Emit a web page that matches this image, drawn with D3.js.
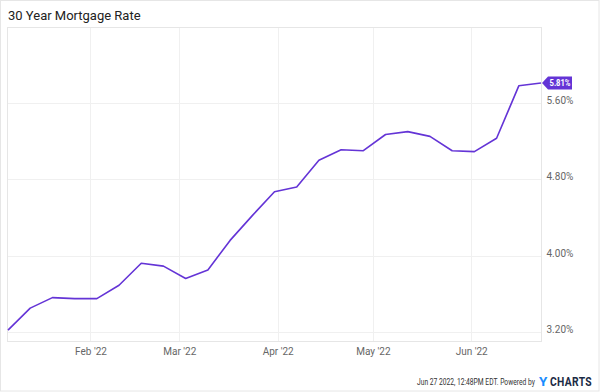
<!DOCTYPE html>
<html><head><meta charset="utf-8">
<script src="https://cdn.jsdelivr.net/npm/d3@7"></script>
<style>body{margin:0;background:#fff}svg{display:block;font-family:Roboto,"Noto Sans",sans-serif}</style>
</head><body>
<svg id="c" width="600" height="392"></svg>
<script>
const dates = ["2022-01-06","2022-01-13","2022-01-20","2022-01-27","2022-02-03","2022-02-10","2022-02-17","2022-02-24","2022-03-03","2022-03-10","2022-03-17","2022-03-24","2022-03-31","2022-04-07","2022-04-14","2022-04-21","2022-04-28","2022-05-05","2022-05-12","2022-05-19","2022-05-26","2022-06-02","2022-06-09","2022-06-16","2022-06-23"];
const rates = [3.22,3.45,3.56,3.55,3.55,3.69,3.92,3.89,3.76,3.85,4.16,4.42,4.67,4.72,5.00,5.11,5.10,5.27,5.30,5.25,5.10,5.09,5.23,5.78,5.81];
const yTicks = [3.2,4.0,4.8,5.6];
const xTicks = ["2022-02-01","2022-03-01","2022-04-01","2022-05-01","2022-06-01"];
const xTickLabels = ["Feb '22","Mar '22","Apr '22","May '22","Jun '22"];
const title = "30 Year Mortgage Rate";
const footer = "Jun 27 2022, 12:48PM EDT. Powered by";

const parse = d3.utcParse("%Y-%m-%d");
const data = dates.map((d,i)=>({date:parse(d), v:rates[i]}));
const svg = d3.select("#c");
const L=7.5, R=541.5, T=27.5, B=341.5;
const x = d3.scaleUtc().domain([data[0].date, data[data.length-1].date]).range([L+0.5, R-0.5]);
const y = d3.scaleLinear().domain([3.2,5.6]).range([332,103]);

// outer frame
svg.append("rect").attr("x",0.5).attr("y",0.5).attr("width",598.5).attr("height",390.5)
  .attr("fill","none").attr("stroke","#e6e6e6");

svg.append("text").attr("x",8).attr("y",20).attr("font-size",13).attr("fill","#222").text(title);

// gridlines
const g = svg.append("g");
g.selectAll(".hg").data(yTicks).join("line")
  .attr("x1",L).attr("x2",R).attr("y1",d=>Math.round(y(d))+0.5).attr("y2",d=>Math.round(y(d))+0.5)
  .attr("stroke","#f0f0f0");
g.selectAll(".vg").data(xTicks).join("line")
  .attr("x1",d=>Math.round(x(parse(d)))+0.5).attr("x2",d=>Math.round(x(parse(d)))+0.5)
  .attr("y1",T).attr("y2",B).attr("stroke","#f0f0f0");

// plot border
svg.append("rect").attr("x",L).attr("y",T).attr("width",R-L).attr("height",B-T)
  .attr("fill","none").attr("stroke","#e6e6e6");

// axes labels via d3 axes
const yAxis = svg.append("g").attr("transform",`translate(${R},0)`)
  .call(d3.axisRight(y).tickValues(yTicks).tickSize(0).tickPadding(5).tickFormat(d=>d.toFixed(2)+"%"));
yAxis.select(".domain").remove();
yAxis.selectAll("text").attr("font-size",10).attr("fill","#666").attr("font-family","Roboto").attr("dy","0.05em");

const xAxis = svg.append("g").attr("transform",`translate(0,${B})`)
  .call(d3.axisBottom(x).tickValues(xTicks.map(parse)).tickSize(0).tickPadding(6).tickFormat((d,i)=>xTickLabels[i]));
xAxis.select(".domain").remove();
xAxis.selectAll("text").attr("font-size",10).attr("fill","#666").attr("font-family","Roboto");

// line
const line = d3.line().x(d=>x(d.date)).y(d=>y(d.v));
svg.append("path").datum(data).attr("d",line).attr("fill","none")
  .attr("stroke","#6434d6").attr("stroke-width",1.6).attr("stroke-linejoin","round");

// badge
const last = data[data.length-1];
const bx = x(last.date)+1, by = y(last.v);
const bg = svg.append("g");
bg.append("path").attr("d",`M${bx},${by} L${bx+6},${by-6.5} L${bx+30},${by-6.5} L${bx+30},${by+6.5} L${bx+6},${by+6.5} Z`)
  .attr("fill","#6434d6");
bg.append("text").attr("x",bx+7.5).attr("y",by+3.5).attr("textLength",21).attr("lengthAdjust","spacingAndGlyphs")
  .attr("font-size",9.5).attr("font-weight","bold").attr("fill","#fff").text(last.v.toFixed(2)+"%");

// footer: fit texts into measured target widths
function fitText(txt, x0, y0, width, attrs){
  const t = svg.append("text").attr("x",0).attr("y",0).text(txt);
  for (const k in attrs) t.attr(k, attrs[k]);
  const w = t.node().getComputedTextLength();
  const s = Math.min(1, width / w);
  t.attr("transform",`translate(${x0},${y0}) scale(${s},1)`);
  return t;
}
fitText(footer, 417, 385, 118, {"font-size":9, fill:"#333"});
fitText("Y", 539, 386, 10, {"font-size":13.5, "font-weight":"bold", fill:"#1a8cff"});
fitText("CHARTS", 550, 386, 42, {"font-size":13, "font-weight":"bold", fill:"#1b2a44", "letter-spacing":"0.4"});
</script>
</body></html>
